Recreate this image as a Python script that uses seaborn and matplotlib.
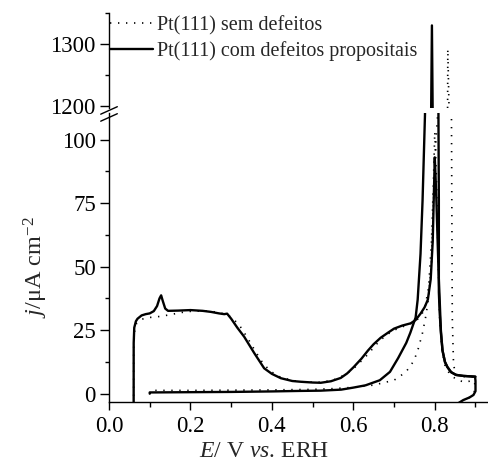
import matplotlib
matplotlib.use("Agg")
import matplotlib.pyplot as plt
import pandas as pd
import seaborn as sns
from matplotlib.lines import Line2D
from matplotlib.ticker import MultipleLocator, FormatStrFormatter

# Pt(111) with intentional defects: positive-going blank voltammogram
E_com_base = [0.0605, 0.0606, 0.062, 0.066, 0.07, 0.08, 0.09, 0.10, 0.11, 0.118, 0.124, 0.128,
              0.132, 0.138, 0.145, 0.17, 0.20, 0.23, 0.25, 0.27, 0.283, 0.29, 0.30, 0.315, 0.332,
              0.357, 0.381, 0.40, 0.422, 0.45, 0.471, 0.50, 0.52, 0.545, 0.569, 0.585, 0.601, 0.62,
              0.636, 0.65, 0.667, 0.685, 0.70, 0.72, 0.741, 0.753, 0.765, 0.775, 0.783, 0.79, 0.795,
              0.798, 0.80, 0.802, 0.804, 0.807, 0.81, 0.812, 0.815, 0.819, 0.825, 0.831, 0.84, 0.852,
              0.87, 0.89, 0.899, 0.90, 0.90, 0.895, 0.885, 0.87, 0.855]
j_com_base = [-4, 20, 26, 28.5, 29.5, 30.8, 31.3, 31.6, 32.5, 34.5, 37.5, 38.7,
              36.5, 33.5, 32.6, 32.7, 32.9, 32.6, 32.2, 31.6, 31.3, 31.5, 29.5, 26, 22.4,
              15.9, 10, 7.8, 6.1, 5.0, 4.7, 4.4, 4.3, 4.9, 6.2, 8.0, 10.5, 13.8,
              17, 19.5, 22, 24, 25.6, 26.8, 27.7, 29, 31.5, 34, 37, 45, 60,
              80, 93, 85, 76, 60, 45, 37, 25, 17, 12.5, 10.5, 8.5, 7.4,
              7.0, 6.8, 6.7, 5, 1, -0.5, -1.5, -2.5, -4]

# Pt(111) with intentional defects: CO-stripping branch
E_com_co = [0.10, 0.10, 0.102, 0.15, 0.20, 0.30, 0.40, 0.47, 0.52, 0.57, 0.60, 0.63, 0.665,
            0.69, 0.71, 0.73, 0.74, 0.753, 0.758, 0.765, 0.77, 0.776, 0.793, 0.809, 0.81,
            0.81, 0.812, 0.815, 0.819, 0.825, 0.831, 0.84, 0.852, 0.87, 0.89, 0.90]
j_com_co = [0.0, 0.5, 0.5, 0.55, 0.6, 0.7, 0.9, 1.1, 1.2, 1.6, 2.4, 3.3, 5.3,
            8.6, 14, 20, 24, 30, 37, 55, 76, 110, 1330, 110, 76,
            40, 32, 24, 17, 12.5, 10.5, 8.5, 7.4, 7.0, 6.8, 6.7]

# Defect-free Pt(111): positive-going blank voltammogram
E_sem_base = [0.0605, 0.0606, 0.063, 0.068, 0.08, 0.10, 0.12, 0.14, 0.16, 0.18, 0.20, 0.23,
              0.26, 0.28, 0.30, 0.32, 0.34, 0.36, 0.38, 0.40, 0.42, 0.45, 0.48, 0.52, 0.55,
              0.58, 0.60, 0.63, 0.66, 0.68, 0.70, 0.72, 0.74, 0.76, 0.775, 0.785, 0.792, 0.797,
              0.80, 0.804, 0.808, 0.812, 0.818, 0.826, 0.839, 0.856, 0.876, 0.893, 0.898, 0.899,
              0.893, 0.882, 0.87]
j_sem_base = [-4, 18, 25, 27.8, 29.3, 30.0, 30.3, 30.8, 31.4, 32.0, 32.4, 32.6,
              32.2, 31.5, 30.2, 27, 22, 16.5, 11.5, 8.5, 6.6, 5.2, 4.6, 4.5, 5.3,
              7.5, 9.8, 14.5, 20, 23, 25, 26.3, 27.5, 29.5, 33, 42, 60, 85,
              103, 85, 55, 30, 17, 10.4, 7.3, 5.3, 4.5, 5.3, 4.5, 1.5,
              -0.5, -1.8, -4]

# Defect-free Pt(111): CO-stripping branch
E_sem_co = [0.10, 0.10, 0.102, 0.20, 0.30, 0.40, 0.50, 0.55, 0.60, 0.65, 0.70, 0.729, 0.749,
            0.76, 0.77, 0.778, 0.785, 0.792, 0.797, 0.803, 0.808, 0.8315, 0.832, 0.835, 0.841,
            0.843, 0.846, 0.85, 0.86, 0.88, 0.90]
j_sem_co = [0.2, 1.1, 1.3, 1.3, 1.4, 1.5, 1.7, 2.0, 2.5, 3.4, 5.3, 8.5, 13,
            18, 24, 30.5, 38, 52, 76, 100, 112, 1198, 1292, 1198, 110,
            30, 12, 8, 6.8, 6.7, 6.6]

labels = ["Pt(111) sem defeitos", "Pt(111) com defeitos propositais"]


def branch(E, j, surface, name):
    return pd.DataFrame({"E": E, "j": j, "superficie": surface, "ramo": name})


df_sem = pd.concat([branch(E_sem_base, j_sem_base, labels[0], "sem_base"),
                    branch(E_sem_co, j_sem_co, labels[0], "sem_co")], ignore_index=True)
df_com = pd.concat([branch(E_com_base, j_com_base, labels[1], "com_base"),
                    branch(E_com_co, j_com_co, labels[1], "com_co")], ignore_index=True)

sns.set_theme(style="ticks")
plt.rcParams.update({
    "font.family": ["Liberation Serif", "DejaVu Serif"],
    "mathtext.fontset": "custom",
    "mathtext.rm": "Liberation Serif",
    "mathtext.it": "Liberation Serif:italic",
    "axes.edgecolor": "black",
    "axes.linewidth": 1.0,
    "xtick.color": "black",
    "ytick.color": "black",
    "xtick.direction": "out",
    "ytick.direction": "out",
    "xtick.major.size": 6,
    "xtick.minor.size": 3.5,
    "ytick.major.size": 6.5,
    "ytick.minor.size": 3,
    "xtick.major.width": 1.0,
    "xtick.minor.width": 1.0,
    "ytick.major.width": 1.0,
    "ytick.minor.width": 1.0,
    "xtick.labelsize": 16.5,
    "ytick.labelsize": 16.5,
    "xtick.major.pad": 4,
    "ytick.major.pad": 3,
})

fig = plt.figure(figsize=(4.88, 4.67), dpi=100)
left, width = 0.2234, 0.776
ax_top = fig.add_axes([left, 0.7698, width, 0.2024])
ax_bot = fig.add_axes([left, 0.1398, width, 0.618])

dot_lw, solid_lw = 1.2, 1.7
dot_dashes = (0.8, 4.0)
for ax in (ax_top, ax_bot):
    sns.lineplot(data=df_sem, x="E", y="j", units="ramo", estimator=None, sort=False,
                 color="black", linewidth=dot_lw, legend=False, ax=ax)
    # dotted style for both branches of the defect-free surface
    for ln in ax.lines:
        ln.set_dashes(dot_dashes)
    sns.lineplot(data=df_com, x="E", y="j", units="ramo", estimator=None, sort=False,
                 color="black", linewidth=solid_lw, legend=False, ax=ax)

xlim = (0.0, 0.93)
for ax in (ax_top, ax_bot):
    ax.set_xlim(*xlim)
    ax.spines["top"].set_visible(False)
    ax.spines["right"].set_visible(False)
    ax.set_xlabel("")
    ax.set_ylabel("")

# upper panel: only the left axis with the tall peaks
ax_top.set_ylim(1198, 1350)
ax_top.spines["bottom"].set_visible(False)
ax_top.tick_params(axis="x", which="both", bottom=False, labelbottom=False)
ax_top.yaxis.set_major_locator(MultipleLocator(100))
ax_top.yaxis.set_minor_locator(MultipleLocator(50))

# lower panel
ax_bot.set_ylim(-3.15, 110.4)
ax_bot.yaxis.set_major_locator(MultipleLocator(25))
ax_bot.yaxis.set_minor_locator(MultipleLocator(12.5))
ax_bot.xaxis.set_major_locator(MultipleLocator(0.2))
ax_bot.xaxis.set_minor_locator(MultipleLocator(0.1))
ax_bot.xaxis.set_major_formatter(FormatStrFormatter("%.1f"))

ax_bot.set_xlabel(r"$E$/ V $vs$. ERH", fontsize=17)
ax_bot.xaxis.set_label_coords(0.409, -0.137)
ax_bot.set_ylabel(r"$j$/μA cm$^{-2}$", fontsize=17.5)
ax_bot.yaxis.set_label_coords(-0.155, 0.465)

# axis-break marks on the left spine
kw = dict(transform=fig.transFigure, color="black", linewidth=1.0, clip_on=False)
for y0 in (0.7635, 0.7485):
    fig.add_artist(Line2D([left - 0.017, left + 0.017], [y0 - 0.008, y0 + 0.008], **kw))

handles = [Line2D([], [], color="black", linewidth=dot_lw, dashes=dot_dashes),
           Line2D([], [], color="black", linewidth=solid_lw)]
ax_top.legend(handles, labels, loc="upper left", bbox_to_anchor=(0.2255, 0.966),
              bbox_transform=fig.transFigure, frameon=False, borderpad=0, borderaxespad=0,
              handlelength=2.15, handletextpad=0.2, labelspacing=0.27,
              prop={"family": "Liberation Serif", "size": 14.5})

fig.savefig("out.png", dpi=100, facecolor="white")
